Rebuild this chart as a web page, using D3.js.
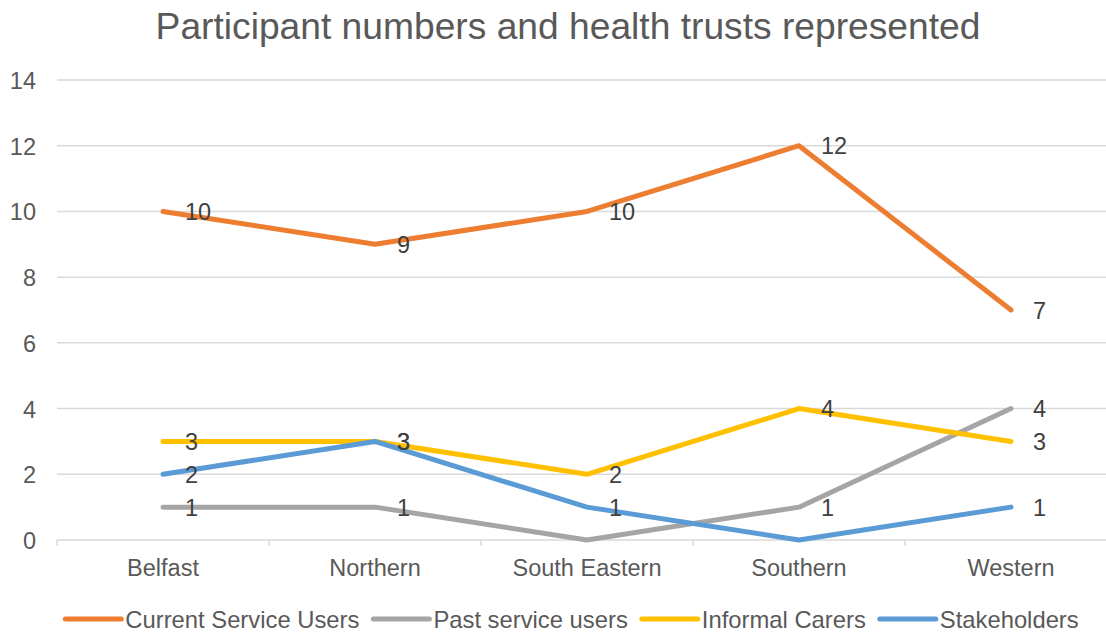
<!DOCTYPE html>
<html>
<head>
<meta charset="utf-8">
<script src="https://cdn.jsdelivr.net/npm/d3@7"></script>
<style>
  html, body { margin: 0; padding: 0; background: #fff; }
  svg { display: block; font-family: "Liberation Sans", Arial, sans-serif; }
</style>
</head>
<body>
<svg id="chart" width="1106" height="632"></svg>
<script>
// Health trust regions along the x axis
const trusts = ["Belfast", "Northern", "South Eastern", "Southern", "Western"];

// Participant counts per group, one value per trust
const currentServiceUsers = [10, 9, 10, 12, 7];
const pastServiceUsers    = [1, 1, 0, 1, 4];
const informalCarers      = [3, 3, 2, 4, 3];
const stakeholders        = [2, 3, 1, 0, 1];

const seriesNames  = ["Current Service Users", "Past service users", "Informal Carers", "Stakeholders"];
const seriesColors = ["#ED7D31", "#A5A5A5", "#FFC000", "#5B9BD5"];
const yTicks = [0, 2, 4, 6, 8, 10, 12, 14];

const series = [currentServiceUsers, pastServiceUsers, informalCarers, stakeholders]
  .map((values, i) => ({ name: seriesNames[i], color: seriesColors[i], values }));

const svg = d3.select("#chart");
const plot = { left: 57, right: 1117, top: 80, bottom: 540 };

const x = d3.scaleBand().domain(trusts).range([plot.left, plot.right]);
const cx = c => x(c) + x.bandwidth() / 2;
const y = d3.scaleLinear().domain([0, 14]).range([plot.bottom, plot.top]);

// Title
svg.append("text")
  .attr("x", 568).attr("y", 39)
  .attr("text-anchor", "middle")
  .attr("fill", "#595959")
  .style("font-size", "37.2px")
  .text("Participant numbers and health trusts represented");

// Horizontal gridlines
svg.append("g").selectAll("line")
  .data(yTicks.filter(t => t > 0))
  .join("line")
  .attr("x1", plot.left).attr("x2", plot.right)
  .attr("y1", d => y(d)).attr("y2", d => y(d))
  .attr("stroke", "#D9D9D9").attr("stroke-width", 1.5);

// Y axis labels
const yAxis = d3.axisLeft(y).tickValues(yTicks).tickSize(0).tickPadding(0);
const gy = svg.append("g").attr("transform", "translate(36,0)").call(yAxis);
gy.select(".domain").remove();
gy.selectAll("text")
  .attr("fill", "#595959")
  .attr("dy", null)
  .attr("y", 8.5)
  .style("font-size", "23.5px")
  .style("font-family", "'Liberation Sans', Arial, sans-serif");

// X axis: baseline, ticks between categories, labels
const gx = svg.append("g").attr("transform", `translate(0,${plot.bottom})`);
gx.append("line")
  .attr("x1", plot.left).attr("x2", plot.right)
  .attr("stroke", "#D9D9D9").attr("stroke-width", 1.5);
gx.selectAll("line.tick")
  .data(trusts.map(t => x(t)).concat([plot.right]))
  .join("line")
  .attr("class", "tick")
  .attr("x1", d => d).attr("x2", d => d)
  .attr("y1", 0).attr("y2", 6)
  .attr("stroke", "#D9D9D9").attr("stroke-width", 1.5);
gx.selectAll("text")
  .data(trusts)
  .join("text")
  .attr("x", d => cx(d)).attr("y", 36)
  .attr("text-anchor", "middle")
  .attr("fill", "#595959")
  .style("font-size", "23.5px")
  .text(d => d);

// Series lines
const line = d3.line()
  .x((d, i) => cx(trusts[i]))
  .y(d => y(d));

svg.append("g").selectAll("path")
  .data(series)
  .join("path")
  .attr("d", s => line(s.values))
  .attr("fill", "none")
  .attr("stroke", s => s.color)
  .attr("stroke-width", 5)
  .attr("stroke-linecap", "round")
  .attr("stroke-linejoin", "round");

// Value labels to the right of each point (zero values are left unlabelled)
const labels = svg.append("g");
series.forEach(s => {
  const pts = s.values.map((v, i) => ({ v, trust: trusts[i] })).filter(p => p.v !== 0);
  labels.selectAll(null)
    .data(pts)
    .join("text")
    .attr("x", p => cx(p.trust) + 22)
    .attr("y", p => y(p.v) + 8.5)
    .attr("fill", "#404040")
    .style("font-size", "23.5px")
    .text(p => p.v);
});

// Legend, laid out from measured text widths
const legend = svg.append("g");
const symW = 56, symGap = 4, itemGap = 14, legendY = 619;
const items = seriesNames.map((name, i) => {
  const g = legend.append("g");
  g.append("line")
    .attr("x1", 0).attr("x2", symW)
    .attr("y1", 0).attr("y2", 0)
    .attr("stroke", seriesColors[i])
    .attr("stroke-width", 5)
    .attr("stroke-linecap", "round");
  const t = g.append("text")
    .attr("x", symW + symGap).attr("y", 8.5)
    .attr("fill", "#595959")
    .style("font-size", "23.8px")
    .text(name);
  const w = symW + symGap + t.node().getComputedTextLength();
  return { g, w };
});
const total = d3.sum(items, d => d.w) + itemGap * (items.length - 1);
let lx = 572 - total / 2;
items.forEach(it => {
  it.g.attr("transform", `translate(${lx},${legendY})`);
  lx += it.w + itemGap;
});
</script>
</body>
</html>
